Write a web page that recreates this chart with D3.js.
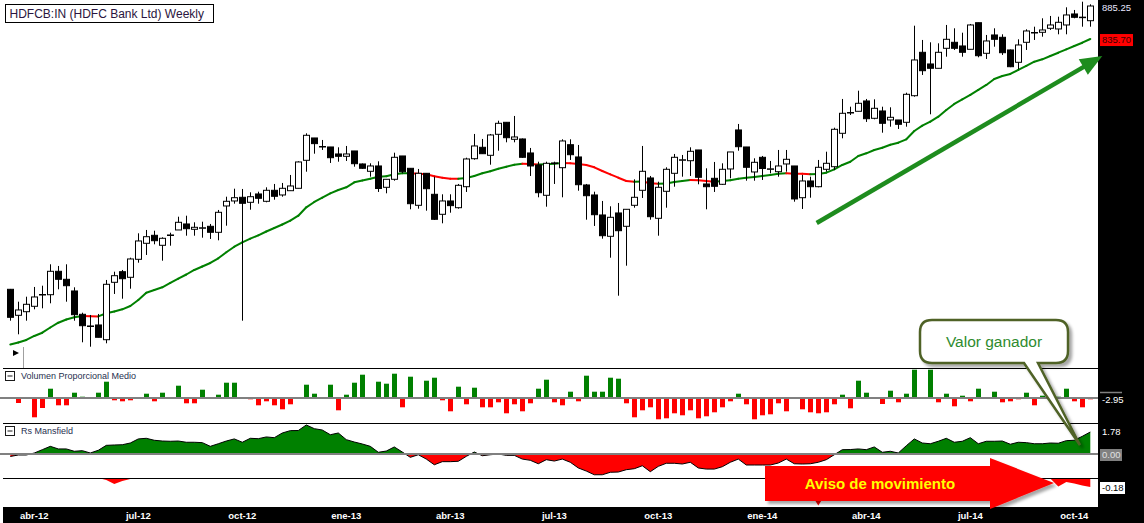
<html>
<head>
<meta charset="utf-8">
<title>HDFCB:IN Weekly</title>
<script src="https://d3js.org/d3.v7.min.js"></script>
<style>
  body { margin: 0; background: #fff; }
  text { font-family: "Liberation Sans", Arial, sans-serif; }
</style>
</head>
<body>
<svg id="chart" width="1144" height="523"></svg>

<script>
// weekly candles, first bar = week of 9 mar 2012
var opens = [460.3,421.3,426.7,434.8,451.8,452.2,487.3,475.3,457.8,422.8,
  405.3,406.8,384.7,470.8,486.7,478.3,505.3,529.3,541.3,526.3,
  541.0,549.3,558.3,550.3,552.0,554.8,545.8,585.3,592.8,598.3,
  590.8,603.3,592.3,608.8,601.8,608.2,611.8,653.8,687.3,674.5,
  673.8,663.3,659.8,667.8,648.3,637.3,645.3,613.3,625.3,660.3,
  641.8,586.3,634.3,602.8,572.8,592.8,582.7,614.2,656.2,673.3,
  661.3,692.8,710.8,685.3,685.8,664.8,646.8,601.3,649.0,642.7,
  677.2,658.8,616.8,601.8,571.8,539.8,574.8,554.8,586.3,608.8,
  627.3,566.8,607.3,634.3,654.0,653.2,669.3,618.3,626.8,617.8,
  640.8,699.3,673.8,636.3,658.3,640.5,636.7,648.3,645.3,597.7,
  622.8,614.2,640.3,644.2,694.3,724.8,727.3,742.8,716.8,727.8,
  714.3,714.3,710.8,750.7,815.8,798.3,791.8,821.8,830.8,825.3,
  820.3,860.2,814.3,841.8,838.3,819.3,800.8,830.8,845.0,845.8,
  851.8,850.8,856.8,873.3,868.0,863.2];
var highs = [460.8,441.7,449.2,463.8,465.7,497.8,495.3,497.8,463.3,425.2,
  421.8,423.3,474.3,486.7,489.3,507.7,544.3,549.3,548.2,538.3,
  545.2,569.2,570.7,560.8,561.7,558.3,579.3,599.2,611.2,610.8,
  605.8,606.7,613.3,618.3,619.8,631.8,652.3,694.3,687.3,684.3,
  673.8,673.3,675.3,667.8,649.0,649.3,652.3,625.3,665.2,660.3,
  641.8,640.8,634.3,629.2,602.8,602.8,618.3,657.7,693.3,685.8,
  693.3,713.2,710.8,720.3,686.5,672.3,651.7,651.7,651.7,685.3,
  685.3,676.8,618.3,606.7,592.8,584.8,589.8,580.3,625.3,675.3,
  630.3,621.7,643.3,663.3,661.8,673.3,669.3,641.8,651.3,649.3,
  666.3,708.3,673.8,656.8,660.3,652.8,669.3,669.3,645.3,631.8,
  629.2,654.3,666.7,702.7,745.8,734.2,758.2,745.8,745.3,734.2,
  733.3,714.3,755.2,855.7,834.3,830.8,829.3,856.8,851.8,845.2,
  858.3,860.2,841.8,851.8,842.8,820.0,835.3,850.3,854.2,866.8,
  870.3,869.2,883.3,879.3,891.7,887.8];
var lows = [413.2,392.8,413.2,430.3,431.8,439.3,460.3,441.7,413.2,380.8,
  374.2,388.3,379.3,453.3,446.2,461.2,500.2,511.8,527.8,503.2,
  525.7,549.3,540.7,540.7,537.7,535.8,533.8,555.7,588.7,413.2,
  579.7,588.7,590.8,594.7,599.2,608.2,611.8,636.7,663.7,669.3,
  649.8,651.7,652.8,644.2,641.0,629.2,606.3,604.3,623.2,634.3,
  580.3,581.2,578.2,564.3,559.3,575.2,581.2,606.3,654.7,663.7,
  647.2,668.2,680.8,680.8,657.5,630.3,598.3,584.2,618.3,598.3,
  654.3,608.2,564.7,555.3,536.2,507.7,450.7,495.7,582.7,597.3,
  564.7,540.7,582.7,614.2,629.2,630.3,617.8,580.3,606.3,616.8,
  626.8,668.2,623.2,623.2,624.3,634.3,629.2,636.7,591.7,580.8,
  597.7,613.3,636.7,639.3,686.8,721.8,727.3,711.3,715.3,695.2,
  704.2,700.8,704.2,749.2,781.8,722.8,791.8,809.2,819.3,809.2,
  820.3,808.3,805.8,824.2,811.8,793.5,790.3,819.3,834.3,839.2,
  849.3,842.8,842.8,866.8,854.2,854.2];
var closes = [418.3,429.3,437.8,448.8,452.5,487.3,475.3,465.7,422.2,405.7,
  404.5,388.3,467.8,480.7,476.2,505.8,532.8,539.2,533.2,536.8,
  541.8,560.8,551.2,553.3,552.6,545.8,575.8,592.3,597.7,589.3,
  599.2,596.8,608.8,599.8,611.8,615.3,651.3,691.3,678.8,673.8,
  657.7,659.8,663.3,648.7,641.8,645.3,611.5,625.3,658.3,636.7,
  588.7,634.3,611.2,565.3,592.8,585.8,616.3,655.8,675.3,663.7,
  691.8,709.3,687.7,688.8,658.3,645.3,605.2,649.3,649.8,682.8,
  662.2,617.2,600.7,572.2,540.7,568.3,548.2,580.3,598.3,637.3,
  569.2,613.3,640.3,658.3,654.6,667.3,628.3,614.2,614.8,640.3,
  666.3,674.2,643.3,650.8,641.5,641.0,645.3,655.3,595.8,622.8,
  614.2,643.3,649.3,700.3,724.3,725.5,739.3,716.2,731.8,709.3,
  718.3,707.8,752.8,804.3,788.2,791.8,815.8,835.3,821.8,815.8,
  856.8,810.7,832.8,835.3,815.2,794.2,826.8,847.8,845.5,849.3,
  856.8,860.8,871.8,868.3,868.5,885.25];
// 30 week moving average
var ma30 = [377.5,380.5,384.3,390.3,395.2,403.0,410.2,415.0,418.3,420.3,
  419.9,419.6,424.3,427.0,430.3,435.3,444.3,455.2,459.3,463.3,
  469.8,476.2,482.5,489.3,494.5,499.8,506.8,515.8,524.2,530.8,
  536.2,541.3,547.0,552.3,557.5,563.2,570.7,583.3,591.3,597.7,
  604.3,609.3,613.3,620.8,623.5,626.2,629.2,629.8,632.8,634.3,
  634.3,633.7,632.8,629.8,627.7,626.2,626.0,627.3,630.3,634.3,
  637.3,641.2,644.2,647.2,648.7,648.3,647.5,647.8,648.7,649.8,
  649.3,648.3,646.8,643.3,637.8,632.8,627.7,622.8,621.7,621.9,
  619.3,618.7,618.9,621.3,622.8,624.3,623.8,622.8,621.7,622.8,
  623.8,626.2,627.7,628.8,630.3,631.8,633.7,634.3,633.7,633.6,
  632.8,633.3,635.2,640.3,646.8,651.7,660.3,664.3,669.3,672.7,
  677.2,680.2,685.3,697.8,705.7,711.7,719.2,729.3,738.3,745.3,
  751.8,759.3,766.8,775.8,780.3,783.3,789.3,795.3,801.7,805.3,
  810.3,815.2,820.3,825.3,830.2,835.7];
// Volumen Proporcional Medio
var volRel = [0,-5,0,-19.3,-10,9.3,-7.3,-7.3,5.3,1.3,
  0,5.3,16.3,-2.3,-3.3,-2.3,0,4.3,-3.3,5.3,
  0,12.3,-5.3,-5.3,8.3,0,3.3,15.3,15.3,0,
  -1.3,-7.3,-3.3,-7.3,-11.3,-6.3,0,13.3,4.3,0,
  13.3,-12.3,3.3,15.3,23.3,0,16.3,14.3,24.3,-9.3,
  21.3,0,17.3,20.3,-2.3,-13.3,11.3,-6.3,10.3,-9.3,
  -9.3,-4.3,-15.3,-6.3,-13.3,-5.3,9.3,18.3,-4.3,-7.3,
  6.3,-3.3,22.3,6.3,6.3,20.3,19.3,-5.3,-19.3,-12.3,
  -9.3,-21.3,-20.3,-15.3,-17.3,-12.3,-20.3,-18.3,-14.3,-9.3,
  -3.3,4.3,-6.3,-21.3,-17.3,-16.3,-5.3,-13.3,0,-11.3,
  -14.3,-15.3,-14.3,-6.3,3.3,-10.3,17.3,5.3,0,-6,
  7.3,-4.3,4.3,28.3,0,28.3,-4.3,4.3,-8.3,2.3,
  -3.3,9.3,0,6.3,-4.3,-3.3,-1.3,5.3,-7.3,2.3,
  0,1.3,9.3,-3.3,-9.3,-1.3];
// Rs Mansfield
var rsMansfield = [-0.20,-0.08,-0.08,0.08,0.35,0.62,0.41,0.41,0.22,0.27,
  0.08,0.30,0.70,0.73,0.75,0.89,1.22,1.27,1.11,1.05,
  1.03,1.05,0.95,0.95,0.92,0.62,0.83,1.05,1.22,0.95,
  1.27,1.24,1.38,1.32,1.70,1.89,1.90,2.35,2.05,1.94,
  1.56,1.70,1.16,0.97,0.81,0.62,0.14,0.24,0.57,0.16,
  -0.27,-0.06,-0.41,-0.87,-0.62,-0.62,-0.59,-0.19,0.16,-0.14,
  -0.06,0.00,-0.11,-0.11,-0.41,-0.51,-0.79,-0.46,-0.57,-0.41,
  -0.67,-1.13,-1.38,-1.68,-1.68,-1.48,-1.46,-1.27,-1.19,-0.95,
  -1.43,-1.00,-0.75,-0.75,-0.81,-0.67,-1.13,-1.22,-1.22,-1.03,
  -0.67,-0.41,-0.89,-0.89,-0.89,-0.89,-0.73,-0.41,-0.79,-0.81,
  -0.79,-0.67,-0.46,-0.06,0.35,0.36,0.41,0.35,0.57,0.14,
  0.22,0.08,0.67,1.22,0.89,0.83,1.03,1.27,0.95,1.03,
  1.32,0.83,1.03,1.03,1.05,0.79,0.95,0.92,0.83,0.83,
  0.89,0.87,1.08,1.11,1.43,1.78];
// lower Mansfield band (only the negative dips show)
var rsLow = [0,0,0,0,0,0,0,0,0,0,
  0,0,-0.04,-0.12,-0.06,-0.02,0,0,0,0,
  0,0,0,0,0,0,0,0,0,0,0,0,0,0,0,0,0,0,0,0,
  0,0,0,0,0,0,0,0,0,0,0,0,0,0,0,0,0,0,0,0,
  0,0,0,0,0,0,0,0,0,0,0,0,0,0,0,0,0,0,0,0,
  0,0,0,0,0,0,0,0,0,0,0,0,0,0,0,0,0,0,0,-0.1,
  -0.3,-0.55,-0.3,0,0,0,0,0,0,0,0,0,0,0,0,0,0,0,0,0,
  0,0,0,0,0,0,0,0,0,0,
  -0.01,-0.17,-0.08,-0.11,-0.15,-0.18];
var monthLabels = ["abr-12","jul-12","oct-12","ene-13","abr-13","jul-13","oct-13","ene-14","abr-14","jul-14","oct-14"];
var monthIdx = [3,16,29,42,55,68,81,94,107,120,133];

var svg = d3.select("#chart");
var plotRight = 1098;
var up = "#008000", down = "#ff0000";

var x = d3.scaleLinear().domain([0, 135]).range([10.3, 1090.3]);
var priceY = d3.scaleLinear().domain([384.25, 894.25]).range([340, 0]);
var volY = d3.scaleLinear().domain([0, 30]).range([398, 368]);
var rsY = d3.scaleLinear().domain([0, 1.78]).range([454, 432]);
var lowY = d3.scaleLinear().domain([0, -0.18]).range([478, 487]);

var defs = svg.append("defs");
function clip(id, x0, y0, w, h) {
  defs.append("clipPath").attr("id", id).append("rect")
    .attr("x", x0).attr("y", y0).attr("width", w).attr("height", h);
}
clip("cMain", 0, 0, plotRight, 368);
clip("cPos", 0, 423, plotRight, 31);
clip("cNeg", 0, 454, plotRight, 24);
clip("cLow", 0, 478, plotRight, 29);
var sh = defs.append("filter").attr("id", "shadow")
  .attr("x", "-10%").attr("y", "-10%").attr("width", "130%").attr("height", "140%");
sh.append("feDropShadow").attr("dx", 3).attr("dy", 3).attr("stdDeviation", 1.5)
  .attr("flood-color", "#000").attr("flood-opacity", 0.35);

svg.append("rect").attr("width", 1144).attr("height", 523).attr("fill", "#fff");

// ---- price panel
var main = svg.append("g").attr("clip-path", "url(#cMain)");
var idx = d3.range(opens.length);

// moving average, red while it falls
main.selectAll("line.ma")
  .data(idx.slice(1))
  .enter().append("line")
    .attr("x1", function(i){ return x(i - 1); })
    .attr("x2", function(i){ return x(i); })
    .attr("y1", function(i){ return priceY(ma30[i - 1]); })
    .attr("y2", function(i){ return priceY(ma30[i]); })
    .attr("stroke", function(i){ return ma30[i] < ma30[i - 1] ? down : up; })
    .attr("stroke-width", 2)
    .attr("stroke-linecap", "round");

var candle = main.selectAll("g.candle")
  .data(idx)
  .enter().append("g");

function cx(i) { return Math.round(x(i)) + 0.5; }

candle.append("line")
  .attr("x1", cx).attr("x2", cx)
  .attr("y1", function(i){ return priceY(highs[i]); })
  .attr("y2", function(i){ return priceY(lows[i]); })
  .attr("stroke", "#000");

candle.append("rect")
  .attr("x", function(i){ return cx(i) - 3; })
  .attr("width", 6)
  .attr("y", function(i){ return priceY(Math.max(opens[i], closes[i])); })
  .attr("height", function(i){ return Math.max(0.5, Math.abs(priceY(opens[i]) - priceY(closes[i]))); })
  .attr("fill", function(i){ return closes[i] < opens[i] ? "#000" : "#fff"; })
  .attr("stroke", "#000");

// title box
svg.append("rect").attr("x", 5.5).attr("y", 4.5).attr("width", 208).attr("height", 18)
  .attr("fill", "#fff").attr("stroke", "#000");
svg.append("text").attr("x", 9.5).attr("y", 17.5)
  .style("font-size", "12px").attr("fill", "#2a1540")
  .text("HDFCB:IN (HDFC Bank Ltd) Weekly");

// little scroll button
svg.append("path").attr("d", "M13,350 L19,353 L13,356 Z").attr("fill", "#000");
svg.append("line").attr("x1", 23.5).attr("x2", 23.5).attr("y1", 347).attr("y2", 368)
  .attr("stroke", "#a0a0a0");

// ---- volume panel
svg.append("g").selectAll("rect")
  .data(idx.filter(function(i){ return volRel[i] !== 0; }))
  .enter().append("rect")
    .attr("x", function(i){ return Math.round(x(i)) - 2; })
    .attr("width", 5)
    .attr("y", function(i){ return Math.min(volY(volRel[i]), volY(0)); })
    .attr("height", function(i){ return Math.abs(volY(volRel[i]) - volY(0)); })
    .attr("fill", function(i){ return volRel[i] > 0 ? up : down; });

svg.append("line").attr("x1", 0).attr("x2", plotRight)
  .attr("y1", volY(0)).attr("y2", volY(0))
  .attr("stroke", "#808080").attr("stroke-width", 2);

// ---- Rs Mansfield panel
var rsArea = d3.area()
  .x(function(d, i){ return x(i); })
  .y0(rsY(0))
  .y1(function(d){ return rsY(d); });
svg.append("path").datum(rsMansfield).attr("d", rsArea)
  .attr("fill", up).attr("clip-path", "url(#cPos)");
svg.append("path").datum(rsMansfield).attr("d", rsArea)
  .attr("fill", down).attr("clip-path", "url(#cNeg)");
svg.append("path").datum(rsMansfield)
  .attr("d", d3.line().x(function(d, i){ return x(i); }).y(function(d){ return rsY(d); }))
  .attr("fill", "none").attr("stroke", "#000").attr("stroke-width", 1);
svg.append("line").attr("x1", 0).attr("x2", plotRight)
  .attr("y1", rsY(0)).attr("y2", rsY(0))
  .attr("stroke", "#808080").attr("stroke-width", 2);

svg.append("path").datum(rsLow)
  .attr("d", d3.area().x(function(d, i){ return x(i); }).y0(lowY(0)).y1(function(d){ return lowY(d); }))
  .attr("fill", down).attr("clip-path", "url(#cLow)");

// panel separators
[368.5, 423.5, 478.5].forEach(function(y){
  svg.append("line").attr("x1", 3).attr("x2", plotRight).attr("y1", y).attr("y2", y)
    .attr("stroke", "#000");
});

// panel captions
[["Volumen Proporcional Medio", 371], ["Rs Mansfield", 426]].forEach(function(p){
  svg.append("rect").attr("x", 5.5).attr("y", p[1] + 0.5).attr("width", 9).attr("height", 9)
    .attr("fill", "#fff").attr("stroke", "#1a1a1a");
  svg.append("line").attr("x1", 7.5).attr("x2", 12.5)
    .attr("y1", p[1] + 5).attr("y2", p[1] + 5).attr("stroke", "#1a1a1a");
  svg.append("text").attr("x", 21).attr("y", p[1] + 8)
    .style("font-size", "9px").attr("fill", "#1f2f4f").text(p[0]);
});

// ---- right scale strip and date bar
svg.append("rect").attr("x", plotRight).attr("y", 0).attr("width", 1144 - plotRight).attr("height", 523)
  .attr("fill", "#000");
svg.append("rect").attr("x", 3).attr("y", 507).attr("width", 1141).attr("height", 16)
  .attr("fill", "#000");

svg.append("g").selectAll("text")
  .data(monthLabels)
  .enter().append("text")
    .attr("x", function(d, k){ return x(monthIdx[k]); })
    .attr("y", 519)
    .attr("text-anchor", "middle")
    .style("font-size", "9.5px").style("font-weight", "bold")
    .attr("fill", "#fff")
    .text(function(d){ return d; });

function axisLabel(txt, y, bg, fg, w) {
  if (bg) svg.append("rect").attr("x", 1100).attr("y", y - 9).attr("width", w).attr("height", 12)
    .attr("fill", bg);
  svg.append("text").attr("x", 1102).attr("y", y)
    .style("font-size", "9.5px").attr("fill", fg).text(txt);
}
var lastClose = closes[closes.length - 1], lastMa = ma30[ma30.length - 1];
axisLabel(lastClose.toFixed(2), priceY(lastClose) + 4.5, null, "#e8e8ff");
axisLabel(lastMa.toFixed(2), priceY(lastMa) + 4, "#ff0000", "#3a0000", 33);
svg.append("line").attr("x1", 1100).attr("x2", 1122).attr("y1", 392.5).attr("y2", 392.5)
  .attr("stroke", "#808080").attr("stroke-width", 1.5);
axisLabel("-2.95", 403, null, "#fff");
axisLabel(rsMansfield[rsMansfield.length - 1].toFixed(2), 435, null, "#fff");
axisLabel("0.00", rsY(0) + 4, "#808080", "#e0e0e0", 22);
axisLabel(rsLow[rsLow.length - 1].toFixed(2), 491, "#fff", "#000", 25);

// ---- annotations
var ax0 = x(100.8), ay0 = priceY(559.75), ax1 = x(136.5), ay1 = priceY(810.25);
var len = Math.hypot(ax1 - ax0, ay1 - ay0), ux = (ax1 - ax0) / len, uy = (ay1 - ay0) / len;
var bx = ax1 - 22 * ux, by = ay1 - 22 * uy;
svg.append("line").attr("x1", ax0).attr("y1", ay0).attr("x2", bx + 4 * ux).attr("y2", by + 4 * uy)
  .attr("stroke", "#1e8c1e").attr("stroke-width", 4.5);
svg.append("path")
  .attr("d", "M" + ax1 + "," + ay1 + " L" + (bx - 9 * uy) + "," + (by + 9 * ux) +
    " L" + (bx + 9 * uy) + "," + (by - 9 * ux) + " Z")
  .attr("fill", "#1e8c1e");

// callout "Valor ganador", tail pointing at the last Rs values
var tipX = x(133.7), tipY = rsY(0.73);
svg.append("path")
  .attr("d", "M932,320 H1056 Q1068,320 1068,332 V351 Q1068,363 1056,363 H1038 L" + tipX + "," + tipY +
    " L1024,363 H932 Q920,363 920,351 V332 Q920,320 932,320 Z")
  .attr("fill", "#fff").attr("stroke", "#4f6228").attr("stroke-width", 2.5)
  .attr("filter", "url(#shadow)");
svg.append("text").attr("x", 994).attr("y", 347).attr("text-anchor", "middle")
  .style("font-size", "15.5px").attr("fill", "#2e8b2e").text("Valor ganador");

// red arrow "Aviso de movimiento"
svg.append("path")
  .attr("d", "M765,466 H990 V458 L1054,483 L990,509 V501 H765 Z")
  .attr("fill", "#ff0000").attr("filter", "url(#shadow)");
svg.append("text").attr("x", 880).attr("y", 489).attr("text-anchor", "middle")
  .style("font-size", "15px").style("font-weight", "bold").attr("fill", "#ffff00")
  .text("Aviso de movimiento");
</script>
</body>
</html>
